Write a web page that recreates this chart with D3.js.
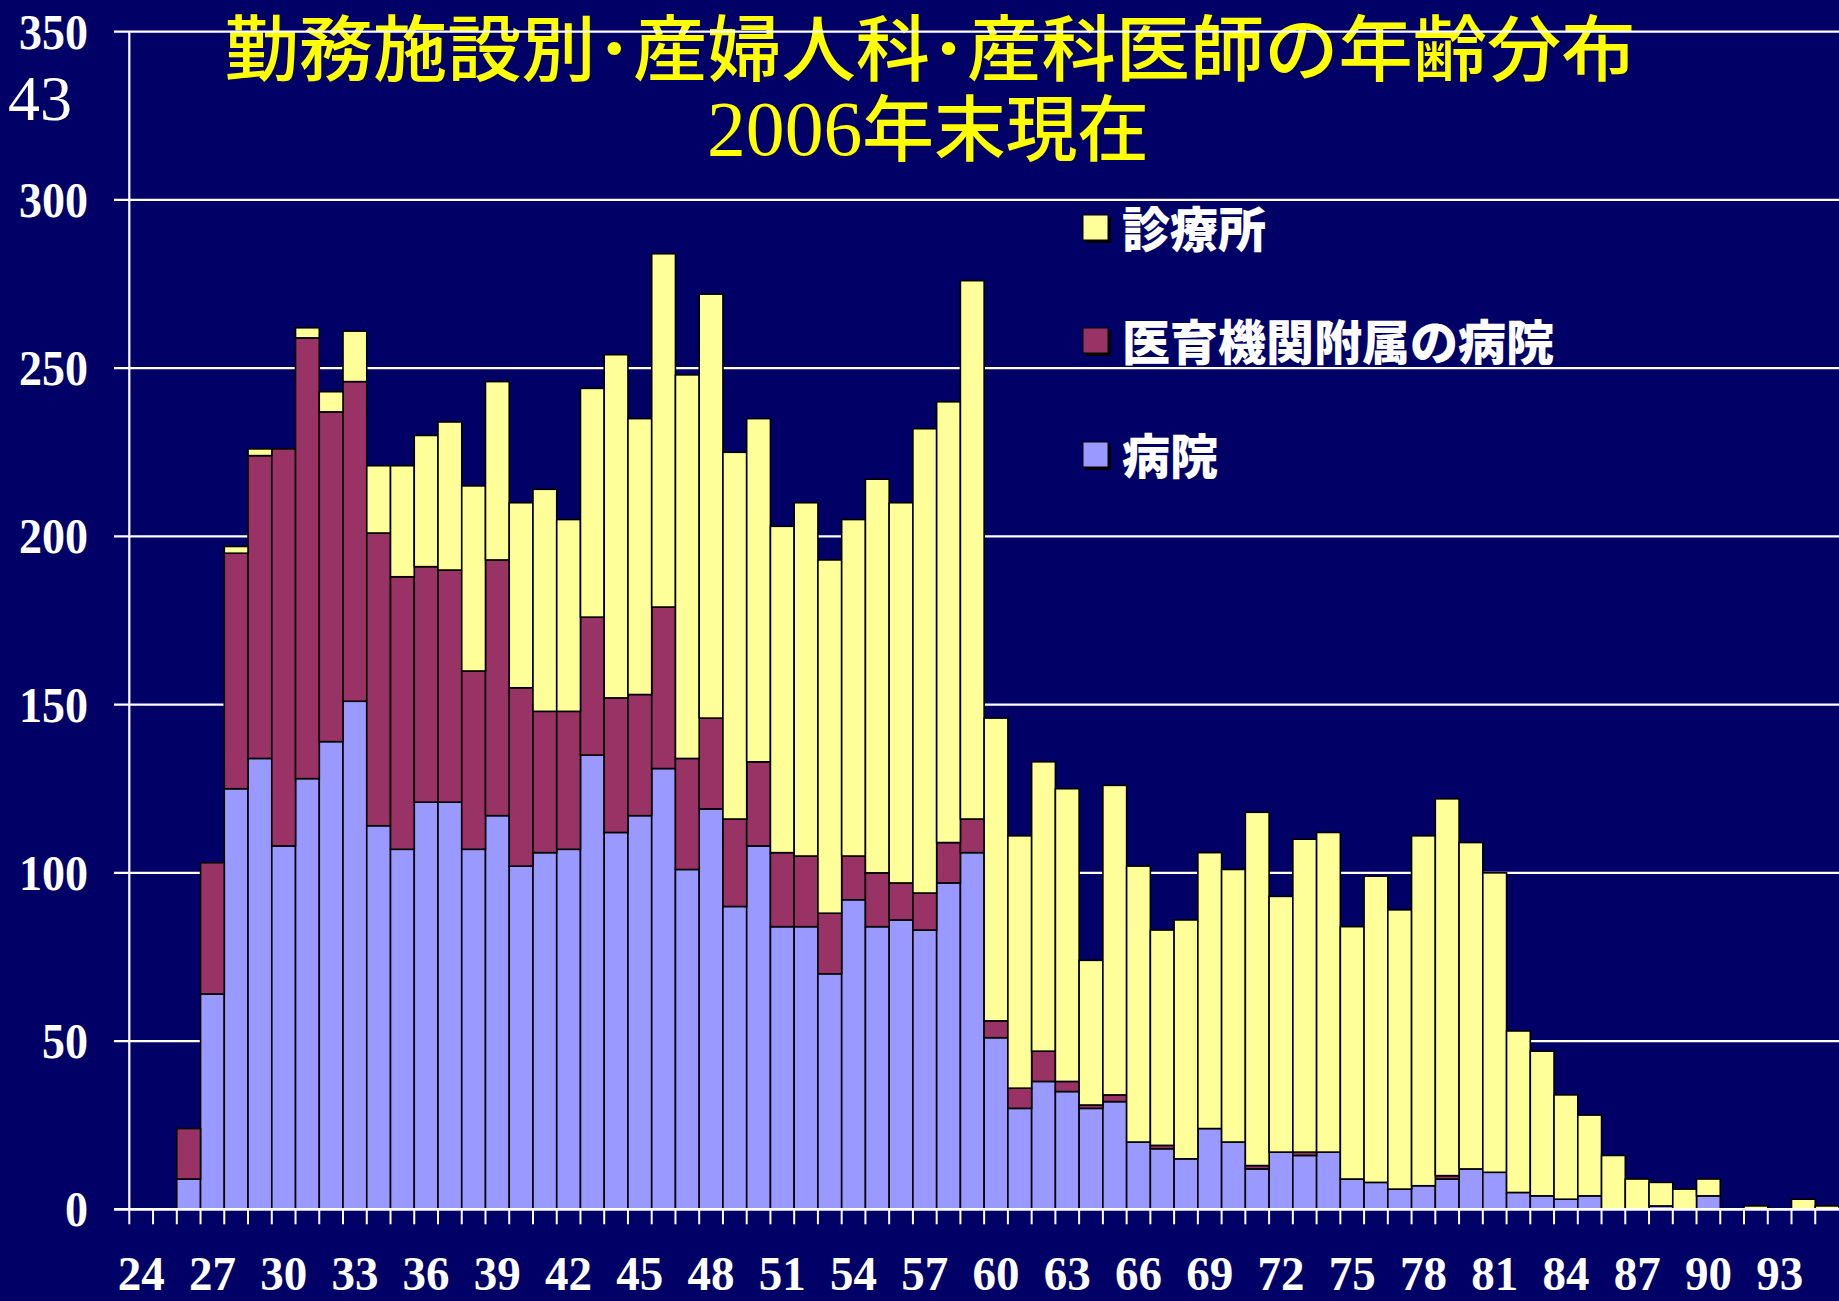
<!DOCTYPE html>
<html>
<head>
<meta charset="utf-8">
<script src="https://cdn.jsdelivr.net/npm/d3@7"></script>
<style>
html,body{margin:0;padding:0;background:#000066;}
svg{display:block;}
</style>
</head>
<body>
<script>
// ---- data ----
const ages = [24,25,26,27,28,29,30,31,32,33,34,35,36,37,38,39,40,41,42,43,44,45,46,47,48,49,50,51,52,53,54,55,56,57,58,59,60,61,62,63,64,65,66,67,68,69,70,71,72,73,74,75,76,77,78,79,80,81,82,83,84,85,86,87,88,89,90,91,92,93,94,95];
const hospital = [0,0,9,64,125,134,108,128,139,151,
  114,107,121,121,107,117,102,106,107,135,
  112,117,131,101,119,90,108,84,84,70,
  92,84,86,83,97,106,51,30,38,35,
  30,32,20,18,15,24,20,12,17,16,
  17,9,8,6,7,9,12,11,5,4,
  3,4,0,0,1,0,4,0,0,0,
  0,0];
const univHospital = [0,0,15,39,70,90,118,131,98,95,
  87,81,70,69,53,76,53,42,41,41,
  40,36,48,33,27,26,25,22,21,18,
  13,16,11,11,12,10,5,6,9,3,
  1,2,0,1,0,0,0,1,0,1,
  0,0,0,0,0,1,0,0,0,0,
  0,0,0,0,0,0,0,0,0,0,
  0,0];
const clinic = [0,0,0,0,2,2,0,3,6,15,
  20,33,39,44,55,53,55,66,57,68,
  102,82,105,114,126,109,102,97,105,105,
  100,117,113,138,131,160,90,75,86,87,
  43,92,82,64,71,82,81,105,76,93,
  95,75,91,83,104,112,97,89,48,43,
  31,24,16,9,7,6,5,0,1,0,
  3,1];
const xTickLabels = ["24","27","30","33","36","39","42","45","48","51","54","57","60","63","66","69","72","75","78","81","84","87","90","93"];
const yTicks = [0,50,100,150,200,250,300,350];
const seriesKeys = ["hospital","univ","clinic"];
const seriesColors = {hospital:"#9999FF", univ:"#993366", clinic:"#FFFF99"};
const legendItems = [
  {key:"clinic", label:"診療所"},
  {key:"univ", label:"医育機関附属の病院"},
  {key:"hospital", label:"病院"}
];
const titleLine1 = "勤務施設別･産婦人科･産科医師の年齢分布";
const titleYear = "2006";
const titleRest = "年末現在";
const slideNo = "43";

// ---- layout ----
const W = 1839, H = 1301;
const plotLeft = 129.3, plotRight = 1839, plotTop = 31.7, plotBottom = 1209.3;

const svg = d3.select("body").append("svg").attr("width", W).attr("height", H);
svg.append("rect").attr("width", W).attr("height", H).attr("fill", "#000066");

const x = d3.scaleBand().domain(ages).range([plotLeft, plotRight]).padding(0);
const y = d3.scaleLinear().domain([0, 350]).range([plotBottom, plotTop]);

const cjk = "'Noto Sans CJK JP','Noto Sans CJK SC',sans-serif";
const serif = "'Liberation Serif','DejaVu Serif',serif";

// title (behind grid lines)
svg.append("text")
  .attr("x", 930).attr("y", 75)
  .attr("text-anchor", "middle")
  .attr("font-family", cjk).attr("font-size", 72).attr("font-weight", 500)
  .attr("fill", "#FFFF00")
  .attr("textLength", 1411).attr("lengthAdjust", "spacingAndGlyphs")
  .text(titleLine1);
const t2 = svg.append("text").attr("x", 707).attr("y", 155).attr("fill", "#FFFF00")
  .attr("textLength", 442).attr("lengthAdjust", "spacingAndGlyphs");
t2.append("tspan").attr("font-family", serif).attr("font-size", 78).text(titleYear);
t2.append("tspan").attr("font-family", cjk).attr("font-size", 72).attr("font-weight", 500).text(titleRest);

svg.append("text").attr("x", 8).attr("y", 120)
  .attr("font-family", serif).attr("font-size", 64).attr("fill", "#FFFFFF")
  .text(slideNo);

// grid lines
svg.append("g").selectAll("line").data(yTicks).join("line")
  .attr("x1", 114).attr("x2", W)
  .attr("y1", d => y(d)).attr("y2", d => y(d))
  .attr("stroke", "#FFFFFF").attr("stroke-width", 2.2);

// y labels
svg.append("g").selectAll("text").data(yTicks).join("text")
  .attr("x", 88).attr("y", d => y(d) + 17)
  .attr("text-anchor", "end")
  .attr("font-family", serif).attr("font-size", 50).attr("font-weight", "bold")
  .attr("fill", "#FFFFFF")
  .attr("textLength", d => String(d).length * 23).attr("lengthAdjust", "spacingAndGlyphs")
  .text(d => d);

// stacked bars
const rows = ages.map((a, i) => ({age: a, hospital: hospital[i], univ: univHospital[i], clinic: clinic[i]}));
const stacked = d3.stack().keys(seriesKeys)(rows);
svg.append("g").selectAll("g").data(stacked).join("g")
  .attr("fill", d => seriesColors[d.key])
  .selectAll("rect").data(d => d.filter(s => s[1] - s[0] > 0)).join("rect")
  .attr("x", d => x(d.data.age))
  .attr("width", x.bandwidth())
  .attr("y", d => y(d[1]))
  .attr("height", d => y(d[0]) - y(d[1]))
  .attr("stroke", "#000000").attr("stroke-width", 1.6);

// axes lines
svg.append("line").attr("x1", plotLeft).attr("x2", plotLeft).attr("y1", plotTop).attr("y2", plotBottom)
  .attr("stroke", "#FFFFFF").attr("stroke-width", 2.2);
svg.append("line").attr("x1", 114).attr("x2", W).attr("y1", plotBottom).attr("y2", plotBottom)
  .attr("stroke", "#FFFFFF").attr("stroke-width", 2.4);

// x ticks at band boundaries
svg.append("g").selectAll("line").data(ages).join("line")
  .attr("x1", d => x(d)).attr("x2", d => x(d))
  .attr("y1", plotBottom).attr("y2", plotBottom + 15)
  .attr("stroke", "#FFFFFF").attr("stroke-width", 2);

// x labels
svg.append("g").selectAll("text").data(xTickLabels).join("text")
  .attr("x", d => x(+d) + x.bandwidth() / 2)
  .attr("y", 1290)
  .attr("text-anchor", "middle")
  .attr("font-family", serif).attr("font-size", 48).attr("font-weight", "bold")
  .attr("fill", "#FFFFFF")
  .attr("textLength", 47).attr("lengthAdjust", "spacingAndGlyphs")
  .text(d => d);

// legend
const legendY = [228, 341, 455];
const lg = svg.append("g").selectAll("g").data(legendItems).join("g")
  .attr("transform", (d, i) => `translate(1083,${legendY[i]})`);
lg.append("rect").attr("x", 3).attr("y", -10).attr("width", 25).attr("height", 25).attr("fill", "#000000");
lg.append("rect").attr("x", 0).attr("y", -13).attr("width", 25).attr("height", 25)
  .attr("fill", d => seriesColors[d.key]).attr("stroke", "#000000").attr("stroke-width", 1);
lg.append("text").attr("x", 39).attr("y", 19)
  .attr("font-family", cjk).attr("font-size", 48).attr("font-weight", 900)
  .attr("fill", "#FFFFFF")
  .text(d => d.label);
</script>
</body>
</html>
